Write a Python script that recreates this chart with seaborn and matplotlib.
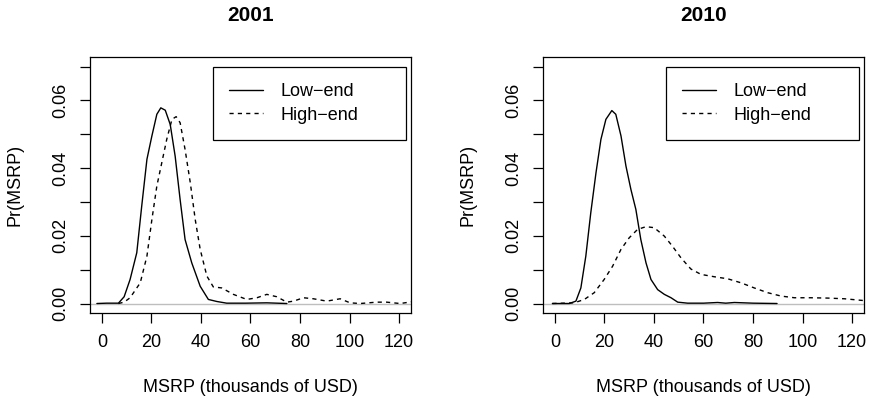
import pandas as pd
import matplotlib
matplotlib.use("Agg")
import matplotlib.pyplot as plt
import seaborn as sns

sns.set_style("white")
plt.rcParams['font.family'] = ['Liberation Sans', 'DejaVu Sans']
plt.rcParams['axes.unicode_minus'] = True
plt.rcParams['text.color'] = 'black'
plt.rcParams['axes.labelcolor'] = 'black'
plt.rcParams['xtick.color'] = 'black'
plt.rcParams['ytick.color'] = 'black'

LOW = "Low\u2212end"
HIGH = "High\u2212end"

# density estimates (x in thousands of USD)
low_2001_x = [-2, 2, 6.7, 9, 11.4, 14.1, 16.1, 18.2, 20.2, 22.2, 23.8, 25.6, 27.6, 29.6,
              31.6, 33.6, 36.3, 39.7, 43, 46.4, 50.4, 58, 66.6, 74.7]
low_2001_y = [0, 0.0001, 0.0001, 0.002, 0.0071, 0.015, 0.0288, 0.0426, 0.0495, 0.0559,
              0.0578, 0.0571, 0.0529, 0.0435, 0.0307, 0.0189, 0.012, 0.0051, 0.0012,
              0.0006, 0.0001, 0.0001, 0.0002, 0.0]

high_2001_x = [6.7, 9, 11.4, 15.5, 18.2, 20.2, 22.2, 24.2, 26.2, 28.3, 30, 31.6, 33.6,
               35.7, 37.7, 39.7, 42.4, 45, 48.4, 53.1, 58.5, 62.6, 66.6, 70.6, 74.7,
               77.4, 81.4, 85.4, 90.8, 96.2, 100.2, 104.3, 111, 115, 120.4, 126]
high_2001_y = [0, 0.0004, 0.0017, 0.0061, 0.014, 0.0248, 0.0347, 0.0416, 0.0485, 0.0544,
               0.0552, 0.0534, 0.0455, 0.0357, 0.0248, 0.016, 0.0081, 0.0049, 0.0046,
               0.0027, 0.0012, 0.0017, 0.0027, 0.002, 0.0004, 0.0007, 0.0017, 0.0014,
               0.0007, 0.0014, 0.0002, 0, 0.0004, 0.0004, 0, 0.0006]

low_2010_x = [-1, 5.8, 8.5, 10.5, 12.5, 14.5, 16.6, 18.6, 20.6, 23, 24.6, 26.7, 28.7,
              30.7, 32.7, 34.7, 36.8, 38.8, 41.5, 44.2, 46.9, 49.6, 53.6, 60, 65.7,
              69, 72.5, 80, 89.7]
low_2010_y = [0, 0, 0.0007, 0.0046, 0.014, 0.0268, 0.0386, 0.0485, 0.0544, 0.057,
              0.0559, 0.0495, 0.0406, 0.0337, 0.0278, 0.0189, 0.012, 0.0071, 0.0041,
              0.0027, 0.0017, 0.0004, 0.0001, 0.0001, 0.0003, 0.0001, 0.0003, 0.0001, 0]

high_2010_x = [-1, 7.8, 11.9, 15.9, 19.9, 23.3, 26.7, 30, 33.4, 36.8, 40.1, 44.2, 47.5,
               50.9, 54.9, 59, 64.4, 69.8, 75.2, 80.5, 85.9, 91.3, 96.7, 103.4, 110.2,
               116.9, 124.3, 127]
high_2010_y = [0, 0.0002, 0.0012, 0.0032, 0.0071, 0.011, 0.016, 0.0194, 0.0219, 0.0227,
               0.0224, 0.0199, 0.0169, 0.0135, 0.0102, 0.0086, 0.0079, 0.0073, 0.0061,
               0.0046, 0.0032, 0.0022, 0.0017, 0.0017, 0.0016, 0.0014, 0.0009, 0.0008]

years = ["2001", "2010"]
x_ticks = [0, 20, 40, 60, 80, 100, 120]
y_ticks = [0.00, 0.01, 0.02, 0.03, 0.04, 0.05, 0.06, 0.07]
y_ticklabels = ["0.00", "", "0.02", "", "0.04", "", "0.06", ""]


def make_frame(lx, ly, hx, hy):
    low = pd.DataFrame({"msrp": lx, "density": ly, "segment": LOW})
    high = pd.DataFrame({"msrp": hx, "density": hy, "segment": HIGH})
    return pd.concat([low, high], ignore_index=True)


frames = {
    "2001": make_frame(low_2001_x, low_2001_y, high_2001_x, high_2001_y),
    "2010": make_frame(low_2010_x, low_2010_y, high_2010_x, high_2010_y),
}

fig = plt.figure(figsize=(8.7, 3.98), dpi=100)
positions = [[0.1034, 0.2136, 0.369, 0.643], [0.6241, 0.2136, 0.369, 0.643]]

for year, pos in zip(years, positions):
    ax = fig.add_axes(pos)
    ax.axhline(0, color="#bebebe", lw=1, zorder=1)
    sns.lineplot(data=frames[year], x="msrp", y="density", style="segment",
                 style_order=[LOW, HIGH], dashes={LOW: "", HIGH: (3, 3)},
                 color="black", lw=1, estimator=None, sort=False, ax=ax, zorder=2)

    leg = ax.get_legend()
    handles = leg.legend_handles
    labels = [t.get_text() for t in leg.get_texts()]
    ax.legend(handles, labels, loc="upper left", bbox_to_anchor=(0.383, 0.684, 0.601, 0.277),
              mode="expand", borderaxespad=0, fontsize=13, frameon=True, fancybox=False,
              edgecolor="black", framealpha=1, borderpad=0.9, labelspacing=0.35,
              handlelength=1.9, handletextpad=0.95)
    ax.get_legend().get_frame().set_linewidth(0.9)

    ax.set_xlim(-4.8, 124.8)
    ax.set_ylim(-0.0028, 0.0728)
    ax.set_xticks(x_ticks)
    ax.set_xticklabels([str(v) for v in x_ticks])
    ax.set_yticks(y_ticks)
    ax.set_yticklabels(y_ticklabels, rotation=90, va="center")
    ax.tick_params(axis="both", direction="out", length=7.2, width=0.9,
                   colors="black", labelsize=13, pad=8, bottom=True, left=True)
    for sp in ax.spines.values():
        sp.set_color("black")
        sp.set_linewidth(0.9)

    ax.set_title(year, fontsize=15, fontweight="bold", pad=26)
    ax.set_xlabel("MSRP (thousands of USD)", fontsize=13, va="center")
    ax.set_ylabel("Pr(MSRP)", fontsize=13, va="center")
    ax.xaxis.set_label_coords(0.5, -0.293)
    ax.yaxis.set_label_coords(-0.234, 0.5)

fig.savefig("out.png", dpi=100)
